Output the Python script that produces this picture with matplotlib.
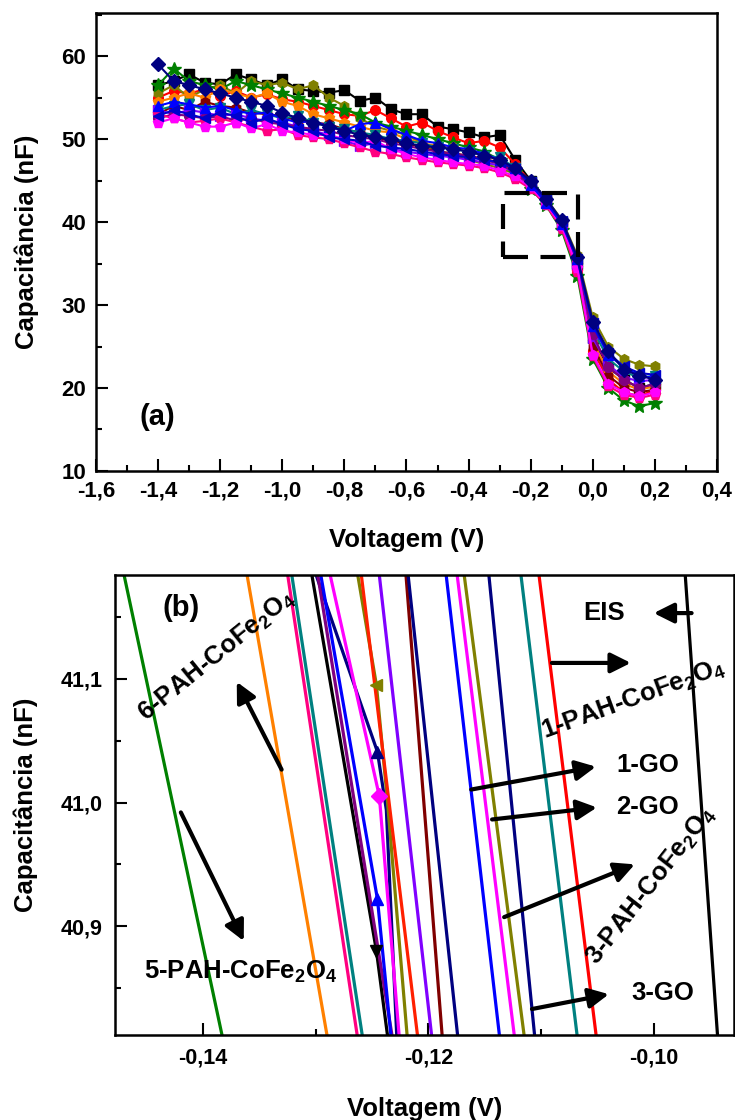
import matplotlib
matplotlib.use("Agg")
import matplotlib.pyplot as plt
from matplotlib.patches import Rectangle
from matplotlib.ticker import MultipleLocator, FixedLocator, FixedFormatter

plt.rcParams['font.family'] = ['Liberation Sans', 'DejaVu Sans']
plt.rcParams['font.weight'] = 'bold'
plt.rcParams['mathtext.default'] = 'regular'

# ------------------------
# Panel (a) data: full C-V curves
# ------------------------
volt = [-1.40, -1.35, -1.30, -1.25, -1.20, -1.15, -1.10, -1.05, -1.00, -0.95, -0.90,
        -0.85, -0.80, -0.75, -0.70, -0.65, -0.60, -0.55, -0.50, -0.45, -0.40, -0.35,
        -0.30, -0.25, -0.20, -0.15, -0.10, -0.05, 0.00, 0.05, 0.10, 0.15, 0.20]

cap_black = [56.5, 57.0, 57.8, 56.8, 56.6, 57.8, 57.2, 56.5, 57.2, 56.0, 55.8,
             55.6, 55.9, 54.6, 55.0, 53.6, 53.0, 53.0, 51.5, 51.2, 50.8, 50.2,
             50.5, 47.5, 45.0, 42.8, 40.0, 35.0, 26.0, 22.5, 21.0, 20.0, 20.5]
cap_red = [55.0, 55.8, 55.5, 56.0, 55.2, 55.8, 55.0, 55.4, 54.8, 54.5, 54.0,
           53.5, 53.0, 52.8, 53.5, 52.5, 51.5, 52.0, 51.0, 50.2, 49.5, 49.8,
           49.0, 47.0, 44.8, 42.5, 39.5, 34.0, 24.5, 21.0, 19.5, 19.0, 19.8]
cap_olive = [55.5, 56.5, 55.0, 56.0, 56.5, 55.5, 57.0, 56.5, 56.8, 56.0, 56.5,
             55.0, 54.0, 52.5, 51.5, 51.0, 50.5, 49.5, 48.5, 48.0, 47.5, 47.0,
             46.5, 45.8, 44.8, 42.8, 40.3, 36.0, 28.5, 25.0, 23.5, 22.8, 22.6]
cap_green = [56.5, 58.5, 57.0, 56.5, 56.0, 57.0, 56.5, 56.0, 55.5, 55.0, 54.5,
             54.0, 53.5, 53.0, 52.0, 51.5, 51.0, 50.5, 50.0, 49.5, 49.0, 48.5,
             47.5, 46.0, 44.0, 42.0, 39.0, 33.5, 23.5, 20.0, 18.5, 17.8, 18.2]
cap_orange = [54.5, 55.0, 55.5, 55.0, 56.0, 55.5, 55.0, 55.5, 54.5, 54.0, 53.0,
              52.5, 52.0, 51.5, 51.0, 50.8, 50.0, 49.5, 49.2, 49.0, 48.5, 48.0,
              47.5, 46.2, 44.6, 42.4, 39.6, 34.8, 25.5, 22.0, 20.5, 19.8, 20.2]
cap_wine = [53.0, 54.0, 53.5, 54.5, 54.0, 53.8, 53.2, 53.0, 52.8, 52.2, 52.0,
            51.8, 51.2, 50.8, 50.2, 49.8, 49.5, 49.0, 48.5, 48.3, 48.0, 47.6,
            47.2, 46.2, 44.6, 42.4, 39.6, 34.6, 25.0, 21.5, 20.0, 19.5, 19.8]
cap_teal = [53.5, 54.0, 54.2, 53.5, 53.8, 53.0, 53.5, 53.0, 52.5, 52.8, 52.0,
            51.5, 51.2, 50.8, 50.5, 50.0, 49.8, 49.5, 49.0, 48.8, 48.5, 48.0,
            47.8, 46.5, 44.8, 42.6, 40.0, 35.2, 27.0, 23.5, 22.0, 21.2, 21.5]
cap_violet = [53.5, 53.0, 53.5, 53.2, 52.8, 53.0, 52.5, 52.2, 52.0, 51.5, 51.0,
              50.5, 49.8, 49.2, 49.5, 48.8, 48.5, 48.2, 48.0, 47.8, 47.5, 47.2,
              46.8, 46.0, 44.4, 42.3, 39.7, 35.0, 26.0, 22.8, 21.3, 20.8, 21.0]
cap_purple = [52.5, 53.0, 52.8, 52.5, 52.8, 52.2, 52.5, 52.0, 51.8, 51.5, 51.2,
              51.0, 50.5, 50.2, 50.0, 49.5, 49.2, 48.8, 48.5, 48.2, 48.0, 47.5,
              47.0, 46.0, 44.5, 42.5, 39.8, 35.0, 26.5, 22.5, 21.0, 20.0, 20.5]
cap_pink = [53.0, 52.5, 52.0, 52.2, 52.5, 52.0, 51.5, 51.0, 51.2, 50.5, 50.2,
            50.0, 49.5, 49.0, 48.5, 48.2, 47.8, 47.5, 47.2, 47.0, 46.8, 46.5,
            46.0, 45.2, 44.0, 42.0, 39.2, 34.0, 23.8, 20.2, 19.2, 18.8, 19.2]
cap_magenta = [52.0, 52.5, 52.0, 51.5, 51.5, 52.0, 51.3, 51.8, 51.0, 50.8, 50.5,
               50.5, 50.0, 49.5, 49.8, 48.8, 48.2, 47.8, 47.5, 47.2, 47.0, 46.8,
               46.2, 45.5, 44.2, 42.2, 39.5, 34.5, 24.0, 20.5, 19.5, 19.0, 19.5]
cap_blue = [54.0, 54.5, 54.2, 53.8, 54.0, 53.5, 53.0, 53.2, 52.5, 52.0, 52.2,
            51.5, 51.0, 51.8, 52.0, 51.2, 50.5, 49.8, 49.5, 49.0, 48.8, 48.2,
            47.5, 46.5, 44.5, 42.3, 39.8, 35.5, 27.5, 24.0, 22.5, 21.5, 21.2]
cap_royal = [52.8, 53.5, 53.0, 52.5, 53.2, 52.8, 52.0, 52.5, 51.8, 51.2, 51.0,
             50.2, 50.0, 49.8, 49.2, 49.0, 48.8, 48.5, 48.2, 48.0, 47.8, 47.5,
             47.2, 46.4, 44.8, 42.7, 40.1, 35.6, 27.8, 24.2, 22.6, 21.8, 21.6]
cap_navy = [59.0, 57.0, 56.5, 56.0, 55.5, 55.0, 54.5, 54.0, 53.2, 52.5, 52.0,
            51.5, 51.0, 50.5, 50.2, 50.0, 49.5, 49.2, 49.0, 48.8, 48.5, 48.0,
            47.5, 46.5, 45.0, 42.8, 40.2, 35.8, 28.0, 24.5, 22.2, 21.5, 21.0]

curves_a = [cap_black, cap_red, cap_olive, cap_green, cap_orange, cap_wine, cap_teal,
            cap_violet, cap_purple, cap_pink, cap_magenta, cap_blue, cap_royal, cap_navy]
colors_a = ['#000000', '#FF0000', '#808000', '#008000', '#FF8000', '#800000', '#008080',
            '#8000FF', '#800080', '#FF0080', '#FF00FF', '#0000FF', '#0000CD', '#000080']
markers_a = ['s', 'o', 'h', '*', 'p', 'h', 'v', '>', 'o', 'p', 'p', '^', '<', 'D']

xticks_a = [-1.6, -1.4, -1.2, -1.0, -0.8, -0.6, -0.4, -0.2, 0.0, 0.2, 0.4]
xlabels_a = ['-1,6', '-1,4', '-1,2', '-1,0', '-0,8', '-0,6', '-0,4', '-0,2', '0,0', '0,2', '0,4']
yticks_a = [10, 20, 30, 40, 50, 60]
ylabels_a = ['10', '20', '30', '40', '50', '60']

# zoom box drawn in panel (a)
box_v = (-0.29, -0.048)
box_c = (35.8, 43.5)

# ------------------------
# Panel (b) data: zoom around 41 nF
# ------------------------
zoom_c_top = 41.19
zoom_c_bottom = 40.80
zoom_v_top = [-0.14713, -0.13619, -0.13257, -0.13221, -0.13044, -0.13018, -0.12991,
              -0.12965, -0.12885, -0.12637, -0.12602, -0.12442, -0.12203, -0.12186,
              -0.11849, -0.11752, -0.11690, -0.11469, -0.11186, -0.11026, -0.09725]
zoom_v_bottom = [-0.13802, -0.12876, -0.12611, -0.12566, -0.12345, -0.12274, -0.12301,
                 -0.12319, -0.12248, -0.12177, -0.12080, -0.11956, -0.11867, -0.11726,
                 -0.11354, -0.11221, -0.11133, -0.11044, -0.10664, -0.10495, -0.09425]
zoom_colors = ['#008000', '#FF8000', '#FF0080', '#008080', '#000000', '#000080', '#800080',
               '#0000FF', '#FF00FF', '#808000', '#FF2000', '#8000FF', '#800000', '#000080',
               '#0000FF', '#FF00FF', '#808000', '#000080', '#008080', '#FF0000', '#000000']

# intermediate points on some lines (line index, V, C, marker)
kink_line = [5, 5, 7, 8, 9, 9, 4]
kink_v = [-0.12451, -0.12372, -0.12451, -0.12434, -0.12460, -0.12363, -0.12460]
kink_c = [41.041, 40.994, 40.922, 41.005, 41.095, 41.002, 40.880]
kink_marker = ['^', None, '^', 'D', '<', None, 'v']

xticks_b = [-0.14, -0.12, -0.10]
xlabels_b = ['-0,14', '-0,12', '-0,10']
yticks_b = [40.9, 41.0, 41.1]
ylabels_b = ['40,9', '41,0', '41,1']

# ------------------------
# Figure
# ------------------------
fig = plt.figure(figsize=(7.35, 11.2), dpi=100)
ax_a = fig.add_axes([0.1306, 0.5795, 0.8449, 0.4089])
ax_b = fig.add_axes([0.1565, 0.0759, 0.8418, 0.4107])


def style_axes(ax, xt, xl, yt, yl, xminor, yminor):
    for sp in ax.spines.values():
        sp.set_linewidth(1.8)
    ax.xaxis.set_major_locator(FixedLocator(xt))
    ax.xaxis.set_major_formatter(FixedFormatter(xl))
    ax.yaxis.set_major_locator(FixedLocator(yt))
    ax.yaxis.set_major_formatter(FixedFormatter(yl))
    ax.xaxis.set_minor_locator(MultipleLocator(xminor))
    ax.yaxis.set_minor_locator(MultipleLocator(yminor))
    ax.tick_params(which='both', direction='in', top=False, right=False, width=1.5)
    ax.tick_params(which='major', length=8.5)
    ax.tick_params(which='minor', length=4.5)


# ---- panel (a)
for cap, col, mk in zip(curves_a, colors_a, markers_a):
    ms = 10 if mk == '*' else 7
    ax_a.plot(volt, cap, color=col, marker=mk, ms=ms, lw=1.5, mec=col)

ax_a.add_patch(Rectangle((box_v[0], box_c[0]), box_v[1] - box_v[0], box_c[1] - box_c[0],
                         fill=False, ec='k', lw=3, linestyle=(0, (6, 3)), zorder=5))
ax_a.set_xlim(-1.6, 0.4)
ax_a.set_ylim(10, 65.2)
style_axes(ax_a, xticks_a, xlabels_a, yticks_a, ylabels_a, 0.1, 5)
ax_a.tick_params(which='major', labelsize=16, pad=7)
ax_a.set_xlabel('Voltagem (V)', fontsize=18.5, fontweight='bold')
ax_a.set_ylabel('Capacitância (nF)', fontsize=18.5, fontweight='bold')
ax_a.xaxis.set_label_coords(0.5, -0.124)
ax_a.yaxis.set_label_coords(-0.092, 0.5)
ax_a.text(-1.403, 16.5, '(a)', fontsize=21, fontweight='bold', ha='center', va='center')

# ---- panel (b)
for i, col in enumerate(zoom_colors):
    pts = [(zoom_v_top[i], zoom_c_top)]
    pts += sorted([(v, c) for ln, v, c in zip(kink_line, kink_v, kink_c) if ln == i],
                  key=lambda p: -p[1])
    pts.append((zoom_v_bottom[i], zoom_c_bottom))
    ax_b.plot([p[0] for p in pts], [p[1] for p in pts], color=col, lw=2.3)

for ln, v, c, mk in zip(kink_line, kink_v, kink_c, kink_marker):
    if mk:
        ax_b.plot([v], [c], marker=mk, color=zoom_colors[ln], ms=8, ls='none')

ax_b.set_xlim(-0.14779, -0.0929)
ax_b.set_ylim(40.812, 41.184)
style_axes(ax_b, xticks_b, xlabels_b, yticks_b, ylabels_b, 0.01, 0.05)
ax_b.tick_params(which='major', labelsize=15.5, pad=9)
ax_b.set_xlabel('Voltagem (V)', fontsize=18.5, fontweight='bold')
ax_b.set_ylabel('Capacitância (nF)', fontsize=18.5, fontweight='bold')
ax_b.xaxis.set_label_coords(0.5, -0.135)
ax_b.yaxis.set_label_coords(-0.124, 0.5)

lab = dict(fontsize=18.5, fontweight='bold', ha='center', va='center')
arr = dict(arrowstyle='-|>,head_length=0.8,head_width=0.4', lw=3, color='k',
           mutation_scale=15, shrinkA=0, shrinkB=0)

ax_b.text(-0.14195, 41.1573, '(b)', fontsize=21, fontweight='bold', ha='center', va='center')
ax_b.text(-0.10442, 41.1532, 'EIS', **lab)
ax_b.annotate('', xy=(-0.10000, 41.1532), xytext=(-0.09664, 41.1532), arrowprops=arr)
ax_b.text(-0.10177, 41.083, '1-PAH-CoFe$_2$O$_4$', rotation=20, **lab)
ax_b.annotate('', xy=(-0.10203, 41.1129), xytext=(-0.10903, 41.1129), arrowprops=arr)
ax_b.text(-0.10053, 41.0306, '1-GO', **lab)
ax_b.annotate('', xy=(-0.10513, 41.029), xytext=(-0.11619, 41.0105), arrowprops=arr)
ax_b.text(-0.10053, 40.996, '2-GO', **lab)
ax_b.annotate('', xy=(-0.10504, 40.996), xytext=(-0.11434, 40.9863), arrowprops=arr)
ax_b.text(-0.10026, 40.9323, '3-PAH-CoFe$_2$O$_4$', rotation=52, **lab)
ax_b.annotate('', xy=(-0.10168, 40.950), xytext=(-0.11327, 40.9073), arrowprops=arr)
ax_b.text(-0.09920, 40.846, '3-GO', **lab)
ax_b.annotate('', xy=(-0.10398, 40.845), xytext=(-0.11080, 40.833), arrowprops=arr)
ax_b.text(-0.13876, 41.1185, '6-PAH-CoFe$_2$O$_4$', rotation=39, **lab)
ax_b.annotate('', xy=(-0.13699, 41.0976), xytext=(-0.13301, 41.0266), arrowprops=arr)
ax_b.text(-0.13664, 40.8629, '5-PAH-CoFe$_2$O$_4$', **lab)
ax_b.annotate('', xy=(-0.13637, 40.888), xytext=(-0.14195, 40.992), arrowprops=arr)

fig.savefig('out.png', dpi=100)
